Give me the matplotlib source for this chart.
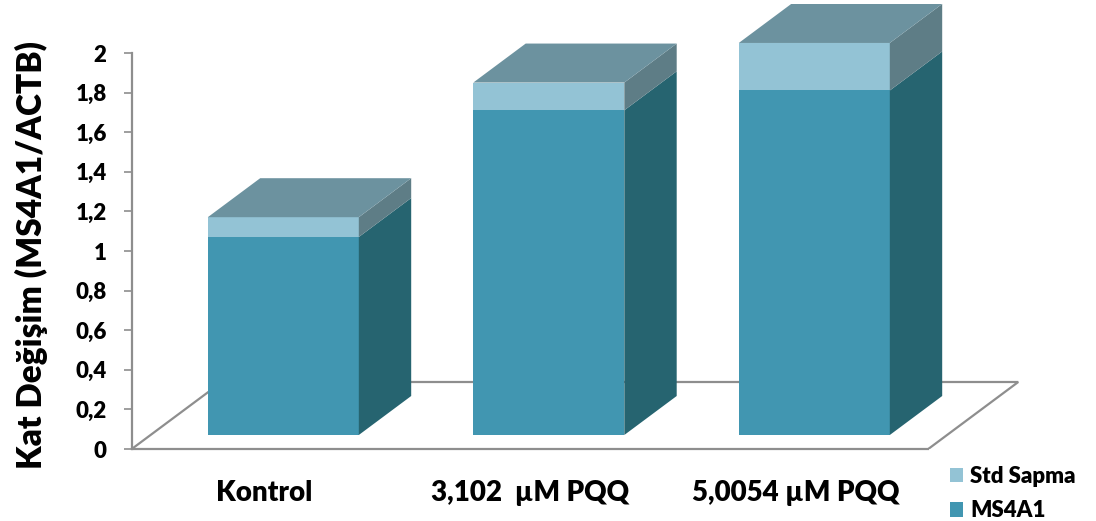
import matplotlib
matplotlib.use("Agg")
import matplotlib.pyplot as plt
from matplotlib.patches import Polygon, Patch

# Data
categories = ["Kontrol", "3,102  \u00b5M PQQ", "5,0054 \u00b5M PQQ"]
ms4a1 = [1.00, 1.64, 1.74]
std_sapma = [0.10, 0.14, 0.24]
series_names = ["Std Sapma", "MS4A1"]
ytick_vals = [0, 0.2, 0.4, 0.6, 0.8, 1.0, 1.2, 1.4, 1.6, 1.8, 2.0]
ytick_labels = ["0", "0,2", "0,4", "0,6", "0,8", "1", "1,2", "1,4", "1,6", "1,8", "2"]

# Colours (front, side, top)
c_ms_front = "#4196B1"
c_ms_side = "#266470"
c_sd_front = "#93C3D5"
c_sd_side = "#5E7D86"
c_top = "#6C929F"
c_floor = "#8E8E8E"

FONT = ["Lato", "DejaVu Sans"]
plt.rcParams["font.family"] = FONT
WEIGHT = "heavy"

W, H = 1096, 521
fig = plt.figure(figsize=(W / 100, H / 100), dpi=100)
fig.patch.set_facecolor("white")

# axes: x in category units, y in value units
xmin, xmax = -0.5, 3.0
ymin, ymax = 0.0, 2.25
px_x = 265.5
px_y = 198.0
left_px, bottom_px = 131.75, 449
ax = fig.add_axes([left_px / W, (H - bottom_px) / H,
                   (xmax - xmin) * px_x / W, (ymax - ymin) * px_y / H])
ax.set_xlim(xmin, xmax)
ax.set_ylim(ymin, ymax)
ax.patch.set_alpha(0)

# oblique depth of the floor (data units)
DX = 90 / px_x
DY = 67 / px_y
d_front = 14 / 67      # front face depth fraction
d_depth = 39 / 67      # bar depth fraction
bar_w = 151 / px_x

# floor outline
fx0, fx1 = -0.5, 2.5
ax.plot([fx0, fx0 + DX, fx1 + DX, fx1], [0, DY, DY, 0],
        color=c_floor, lw=1.6, zorder=1, solid_joinstyle="miter")

ox, oy = d_front * DX, d_front * DY
ddx, ddy = d_depth * DX, d_depth * DY


def box(xc, b, t, front, side, top=None):
    x0 = xc - bar_w / 2 + ox
    x1 = xc + bar_w / 2 + ox
    b0, t0 = b + oy, t + oy
    ax.add_patch(Polygon([(x0, b0), (x1, b0), (x1, t0), (x0, t0)],
                         closed=True, fc=front, ec="none", zorder=3))
    ax.add_patch(Polygon([(x1, b0), (x1 + ddx, b0 + ddy),
                          (x1 + ddx, t0 + ddy), (x1, t0)],
                         closed=True, fc=side, ec="none", zorder=3))
    if top is not None:
        ax.add_patch(Polygon([(x0, t0), (x1, t0), (x1 + ddx, t0 + ddy),
                              (x0 + ddx, t0 + ddy)],
                             closed=True, fc=top, ec="none", zorder=3))


for i, (m, s) in enumerate(zip(ms4a1, std_sapma)):
    box(i, 0, m, c_ms_front, c_ms_side)
    box(i, m, m + s, c_sd_front, c_sd_side, c_top)

# axes styling
for sp in ["top", "right"]:
    ax.spines[sp].set_visible(False)
ax.spines["bottom"].set_bounds(fx0, fx1)
ax.spines["bottom"].set_color(c_floor)
ax.spines["bottom"].set_linewidth(1.6)
ax.spines["left"].set_bounds(0, 2)
ax.spines["left"].set_color(c_floor)
ax.spines["left"].set_linewidth(1.6)

ax.set_yticks(ytick_vals)
ax.set_yticklabels(ytick_labels)
ax.tick_params(axis="y", direction="out", length=6, width=1.2, color=c_floor,
               pad=12, labelsize=16, labelcolor="black")
ax.set_xticks(range(len(categories)))
ax.set_xticklabels(categories)
ax.tick_params(axis="x", length=0, pad=22, labelsize=20, labelcolor="black")
for lab in ax.get_xticklabels() + ax.get_yticklabels():
    lab.set_fontweight(WEIGHT)

ax.set_ylabel("Kat De\u011fi\u015fim (MS4A1/ACTB)", fontsize=24, fontweight=WEIGHT)
ax.yaxis.set_label_coords(-0.090, 0.435)

handles = [Patch(fc=c_sd_front, ec="none"), Patch(fc=c_ms_front, ec="none")]
leg = fig.legend(handles, series_names, loc="upper left",
                 bbox_to_anchor=(950 / W, 1 - 466 / H), frameon=False,
                 borderpad=0, borderaxespad=0,
                 handlelength=0.6, handleheight=0.6, handletextpad=0.3,
                 labelspacing=0.6, prop={"weight": WEIGHT, "size": 16})

fig.savefig("out.png", dpi=100, facecolor="white")
